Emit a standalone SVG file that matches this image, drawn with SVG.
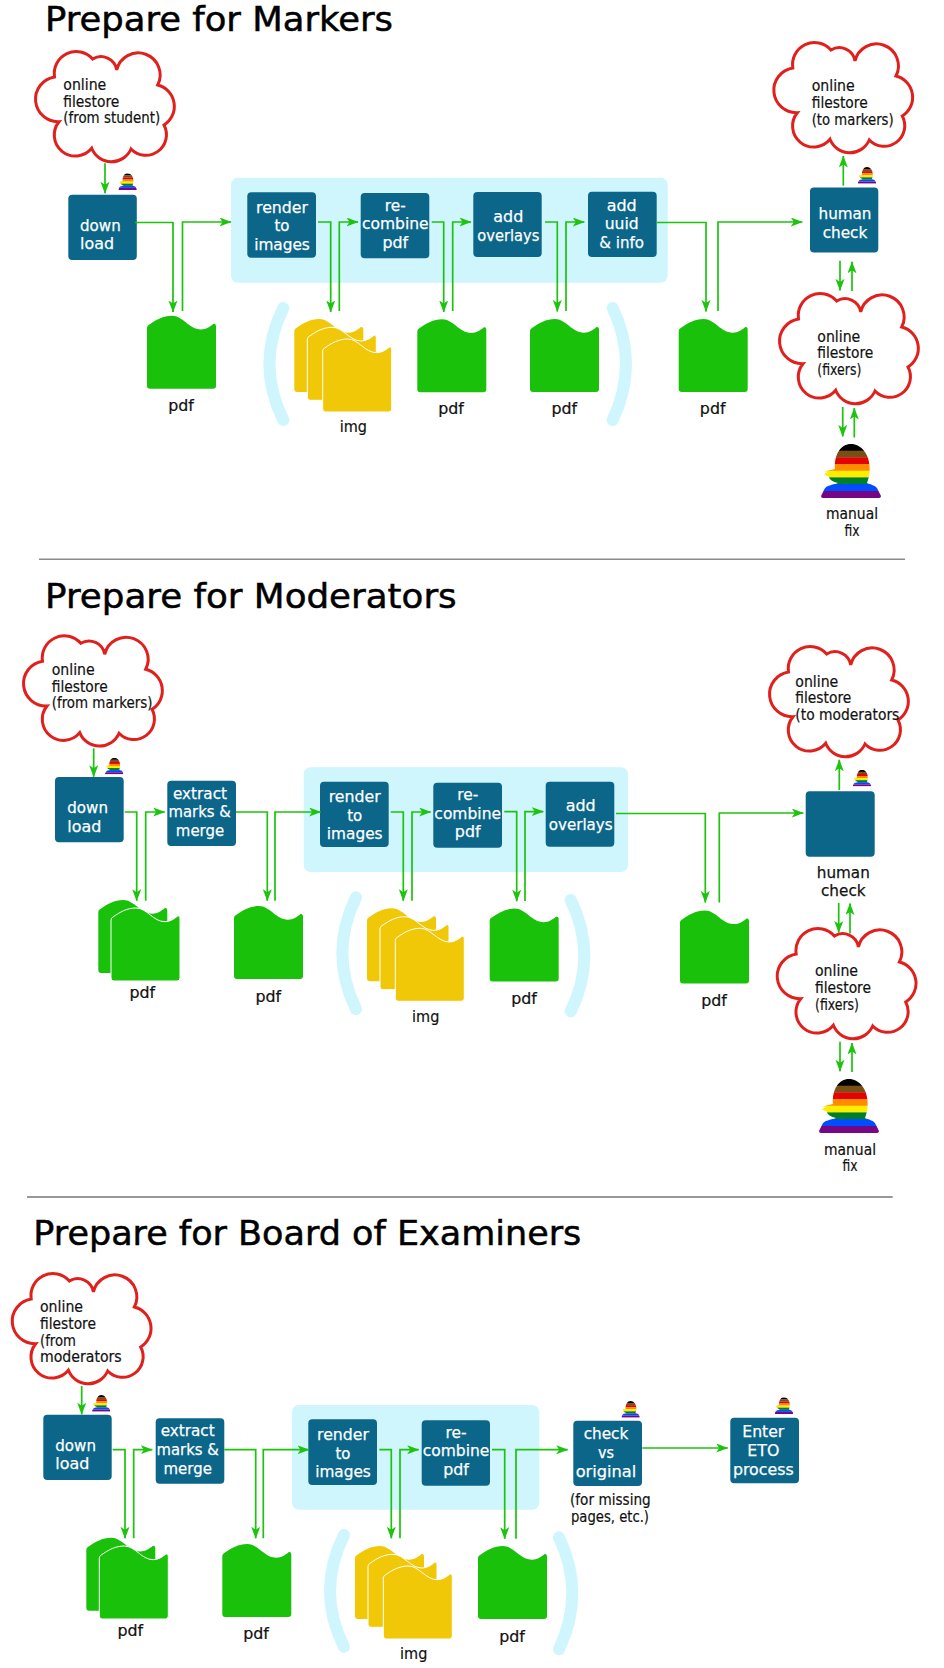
<svg xmlns="http://www.w3.org/2000/svg" xmlns:xlink="http://www.w3.org/1999/xlink" width="944" height="1668" viewBox="0 0 944 1668">
<style>
text{font-family:"DejaVu Sans","Liberation Sans",sans-serif}
.t{font-size:34px;fill:#000;stroke:#000;stroke-width:.5}
.l{font-size:15px;fill:#111;stroke:#111;stroke-width:.2}
.c{text-anchor:middle}
.w{font-size:16.5px;fill:#fff;stroke:#fff;stroke-width:.25}
.k{font-size:16.5px;fill:#111;stroke:#111;stroke-width:.25}
.box{fill:#0b6689}
.panel{fill:#cff5fd}
.paren{fill:none;stroke:#cff5fd;stroke-width:12;stroke-linecap:round}
.cloud{fill:#fff;stroke:#e0201c;stroke-width:3}
.g{fill:#1ac10a}
.y{fill:#f0c808}
.edge{stroke:#fff;stroke-width:1}
.con path{fill:none;stroke:#1cc40d;stroke-width:1.7;marker-end:url(#a)}
</style>
<defs>
<marker id="a" markerUnits="userSpaceOnUse" markerWidth="14" markerHeight="10" refX="11.5" refY="4.5" orient="auto"><path d="M0,0 L12,4.5 L0,9 L3,4.5 Z" fill="#1cc40d"/></marker>
<path id="cloud" class="cloud" d="M18.5,28 A22,22 0 0 1 56.7,10 A16,16 0 0 1 80.7,21 A22,22 0 1 1 121.7,36 A22,22 0 0 1 128,76 A20.6,20.6 0 0 1 95,100 A21.3,21.3 0 0 1 55.7,99.3 A21,21 0 0 1 23,72.7 A22.5,22.5 0 0 1 18.5,28 Z"/>
<path id="doc" d="M0,12 Q0,10 2,9 C9,4 16,0 25,0 C36,0 42,13.7 54,13.7 C59,13.7 63,11 66,8.5 C67.5,7.5 69,8 69,11 V70 Q69,73 66,73 H3 Q0,73 0,70 Z"/>
<clipPath id="pc"><path d="M30,0 C40,0 48,10 48.5,22 C49,28 48,34 46,39 C50,41 55,41 57,46 L60,52 Q60,54 58,54 H2 Q0,54 0,52 L3,46 C5,41 12,41 17,39 C12,38 8,35 8,33 L3,30 L7,28 L3,27.7 L14,25 C13,10 20,0 30,0 Z"/></clipPath>
<g id="person" clip-path="url(#pc)">
<rect x="0" y="0" width="60" height="7" fill="#000"/>
<rect x="0" y="6.7" width="60" height="7" fill="#784f17"/>
<rect x="0" y="13.4" width="60" height="7" fill="#e40303"/>
<rect x="0" y="20" width="60" height="7" fill="#ff8c00"/>
<rect x="0" y="26.7" width="60" height="7" fill="#ffed00"/>
<rect x="0" y="33.4" width="60" height="7" fill="#008026"/>
<rect x="0" y="40" width="60" height="7" fill="#004dff"/>
<rect x="0" y="47" width="60" height="7" fill="#750787"/>
</g>
</defs>
<rect width="944" height="1668" fill="#fff"/>

<g id="section-1">
<text class="t" x="45" y="30.7" textLength="348" lengthAdjust="spacingAndGlyphs">Prepare for Markers</text>
<g id="s1-panel"><rect class="panel" x="231" y="177.7" width="436.7" height="105" rx="7"/></g>
<path class="paren" d="M283.3,308 Q255.5,364 283.3,420"/>
<path class="paren" d="M612.7,308 Q639.3,364 612.7,420"/>
<g id="s1-cloud-student"><use href="#cloud" xlink:href="#cloud" x="36" y="49"/>
<text class="l" x="63.3" y="90" textLength="43" lengthAdjust="spacingAndGlyphs">online</text><text class="l" x="63.3" y="106.7" textLength="56" lengthAdjust="spacingAndGlyphs">filestore</text><text class="l" x="63.3" y="123.3" textLength="97" lengthAdjust="spacingAndGlyphs">(from student)</text></g>
<g id="s1-download"><rect class="box" x="68.3" y="194.7" width="68.5" height="65.3" rx="4"/><text class="w" x="80" y="230.7" textLength="40.7" lengthAdjust="spacingAndGlyphs">down</text><text class="w" x="80" y="249.3" textLength="34" lengthAdjust="spacingAndGlyphs">load</text></g>
<g id="s1-person1"><use href="#person" xlink:href="#person" transform="translate(118.3,173.3) scale(.31)"/></g>
<g id="s1-render"><rect class="box" x="247.3" y="192.3" width="68.7" height="65.4" rx="4"/><text class="w c" x="282" y="212.7" textLength="52" lengthAdjust="spacingAndGlyphs">render</text><text class="w c" x="282" y="231.3" textLength="15" lengthAdjust="spacingAndGlyphs">to</text><text class="w c" x="282" y="250" textLength="55.7" lengthAdjust="spacingAndGlyphs">images</text></g>
<g id="s1-recombine"><rect class="box" x="360.7" y="193" width="68.6" height="65.3" rx="4"/><text class="w c" x="395.3" y="210.7" textLength="21" lengthAdjust="spacingAndGlyphs">re-</text><text class="w c" x="395.3" y="229" textLength="66.7" lengthAdjust="spacingAndGlyphs">combine</text><text class="w c" x="395.3" y="247.7" textLength="25.7" lengthAdjust="spacingAndGlyphs">pdf</text></g>
<g id="s1-overlays"><rect class="box" x="473.3" y="192" width="68.4" height="65" rx="4"/><text class="w c" x="508.3" y="222" textLength="30" lengthAdjust="spacingAndGlyphs">add</text><text class="w c" x="508.3" y="241" textLength="62" lengthAdjust="spacingAndGlyphs">overlays</text></g>
<g id="s1-uuid"><rect class="box" x="588" y="191.8" width="68.7" height="65.2" rx="4"/><text class="w c" x="621.7" y="210.7" textLength="30" lengthAdjust="spacingAndGlyphs">add</text><text class="w c" x="621.7" y="229.3" textLength="34" lengthAdjust="spacingAndGlyphs">uuid</text><text class="w c" x="621.7" y="248" textLength="44.7" lengthAdjust="spacingAndGlyphs">&amp; info</text></g>
<g id="s1-human"><rect class="box" x="810" y="187.5" width="68.3" height="65" rx="4"/><text class="w c" x="845" y="218.6" textLength="53" lengthAdjust="spacingAndGlyphs">human</text><text class="w c" x="845" y="237.5" textLength="44.7" lengthAdjust="spacingAndGlyphs">check</text></g>
<g id="s1-person2"><use href="#person" xlink:href="#person" transform="translate(857.7,167) scale(.31)"/></g>
<g id="s1-cloud-markers"><use href="#cloud" xlink:href="#cloud" x="774.3" y="40"/>
<text class="l" x="811.7" y="91" textLength="43" lengthAdjust="spacingAndGlyphs">online</text><text class="l" x="811.7" y="108" textLength="56" lengthAdjust="spacingAndGlyphs">filestore</text><text class="l" x="811.7" y="125" textLength="82" lengthAdjust="spacingAndGlyphs">(to markers)</text></g>
<g id="s1-cloud-fixers"><use href="#cloud" xlink:href="#cloud" x="780" y="291"/>
<text class="l" x="817.3" y="341.8" textLength="43" lengthAdjust="spacingAndGlyphs">online</text><text class="l" x="817.3" y="358" textLength="56" lengthAdjust="spacingAndGlyphs">filestore</text><text class="l" x="817.3" y="375" textLength="44" lengthAdjust="spacingAndGlyphs">(fixers)</text></g>
<g id="s1-pdf1"><use href="#doc" xlink:href="#doc" class="g" x="147" y="315.7"/><text class="l c" x="181" y="410.7" textLength="25.7" lengthAdjust="spacingAndGlyphs">pdf</text></g>
<g id="s1-img"><use href="#doc" xlink:href="#doc" class="y" x="294.3" y="319"/><use href="#doc" xlink:href="#doc" class="y edge" x="307.3" y="327.3"/><use href="#doc" xlink:href="#doc" class="y edge" x="322.7" y="339"/><text class="l c" x="353.3" y="432.3" textLength="27.3" lengthAdjust="spacingAndGlyphs">img</text></g>
<g id="s1-pdf2"><use href="#doc" xlink:href="#doc" class="g" x="417.3" y="319.3"/><text class="l c" x="451" y="414.3" textLength="25.7" lengthAdjust="spacingAndGlyphs">pdf</text></g>
<g id="s1-pdf3"><use href="#doc" xlink:href="#doc" class="g" x="530" y="319"/><text class="l c" x="564.3" y="414" textLength="25.7" lengthAdjust="spacingAndGlyphs">pdf</text></g>
<g id="s1-pdf4"><use href="#doc" xlink:href="#doc" class="g" x="678.7" y="319"/><text class="l c" x="712.7" y="414" textLength="25.7" lengthAdjust="spacingAndGlyphs">pdf</text></g>
<g id="s1-manual"><use href="#person" xlink:href="#person" transform="translate(821,444)"/><text class="l c" x="852" y="519.3" textLength="52" lengthAdjust="spacingAndGlyphs">manual</text><text class="l c" x="852" y="536" textLength="15" lengthAdjust="spacingAndGlyphs">fix</text></g>
<g id="s1-connectors" class="con">
<path d="M105,163.3 V193.3"/>
<path d="M135,222.5 H173 V312"/>
<path d="M182.5,311 V222 H231"/>
<path d="M318,222 H330.7 V312"/>
<path d="M339.3,311 V222 H358"/>
<path d="M431.7,222 H443.7 V312"/>
<path d="M452.7,311 V222 H471"/>
<path d="M545,222 H557.3 V311.4"/>
<path d="M566,311 V222 H584.3"/>
<path d="M656.7,222.5 H706 V311.4"/>
<path d="M718,311 V222 H802.3"/>
<path d="M843.3,185.7 V156"/>
<path d="M840,260.7 V290.4"/>
<path d="M852,291 V261.8"/>
<path d="M842.7,407 V436.4"/>
<path d="M854.3,437.5 V408"/>
</g>
</g>

<line id="rule-1" x1="39" y1="559.3" x2="905" y2="559.3" stroke="#8a8a8a" stroke-width="1.5"/>

<g id="section-2">
<text class="t" x="45" y="608.3" textLength="411.7" lengthAdjust="spacingAndGlyphs">Prepare for Moderators</text>
<g id="s2-panel"><rect class="panel" x="303.7" y="767.3" width="324.3" height="104.7" rx="7"/></g>
<path class="paren" d="M356,897.3 Q328.7,953 356,1009"/>
<path class="paren" d="M570.7,900 Q598,955.7 570.7,1011.4"/>
<g id="s2-cloud-markers"><use href="#cloud" xlink:href="#cloud" x="24" y="633.3"/>
<text class="l" x="51.7" y="675" textLength="43" lengthAdjust="spacingAndGlyphs">online</text><text class="l" x="51.7" y="691.7" textLength="56" lengthAdjust="spacingAndGlyphs">filestore</text><text class="l" x="51.7" y="708.3" textLength="100.7" lengthAdjust="spacingAndGlyphs">(from markers)</text></g>
<g id="s2-download"><rect class="box" x="55" y="777" width="68.7" height="65.3" rx="4"/><text class="w" x="67.3" y="812.7" textLength="40.7" lengthAdjust="spacingAndGlyphs">down</text><text class="w" x="67.3" y="831.7" textLength="34" lengthAdjust="spacingAndGlyphs">load</text></g>
<g id="s2-person1"><use href="#person" xlink:href="#person" transform="translate(105,757.7) scale(.31)"/></g>
<g id="s2-extract"><rect class="box" x="167.3" y="780.7" width="68.7" height="65.3" rx="4"/><text class="w c" x="200" y="798.7" textLength="54" lengthAdjust="spacingAndGlyphs">extract</text><text class="w c" x="199.7" y="817.3" textLength="62.3" lengthAdjust="spacingAndGlyphs">marks &amp;</text><text class="w c" x="200" y="836" textLength="48.3" lengthAdjust="spacingAndGlyphs">merge</text></g>
<g id="s2-render"><rect class="box" x="320" y="781.7" width="68.7" height="65.3" rx="4"/><text class="w c" x="354.7" y="802.3" textLength="52" lengthAdjust="spacingAndGlyphs">render</text><text class="w c" x="354.7" y="821" textLength="15" lengthAdjust="spacingAndGlyphs">to</text><text class="w c" x="354.7" y="839.3" textLength="55.7" lengthAdjust="spacingAndGlyphs">images</text></g>
<g id="s2-recombine"><rect class="box" x="433.3" y="782.7" width="68.7" height="65" rx="4"/><text class="w c" x="467.7" y="800" textLength="21" lengthAdjust="spacingAndGlyphs">re-</text><text class="w c" x="467.7" y="818.7" textLength="66.7" lengthAdjust="spacingAndGlyphs">combine</text><text class="w c" x="467.7" y="837.3" textLength="25.7" lengthAdjust="spacingAndGlyphs">pdf</text></g>
<g id="s2-overlays"><rect class="box" x="545.7" y="781.7" width="68.6" height="65.1" rx="4"/><text class="w c" x="580.7" y="811.3" textLength="30" lengthAdjust="spacingAndGlyphs">add</text><text class="w c" x="580.7" y="830" textLength="64" lengthAdjust="spacingAndGlyphs">overlays</text></g>
<g id="s2-human"><rect class="box" x="805.7" y="791.3" width="69" height="65.5" rx="4"/><text class="k c" x="843.3" y="877.5" textLength="53" lengthAdjust="spacingAndGlyphs">human</text><text class="k c" x="843.3" y="896.4" textLength="44.7" lengthAdjust="spacingAndGlyphs">check</text></g>
<g id="s2-person2"><use href="#person" xlink:href="#person" transform="translate(852.7,769.8) scale(.31)"/></g>
<g id="s2-cloud-moderators"><use href="#cloud" xlink:href="#cloud" x="770" y="644"/>
<text class="l" x="795.3" y="686.6" textLength="43" lengthAdjust="spacingAndGlyphs">online</text><text class="l" x="795.3" y="703.2" textLength="56" lengthAdjust="spacingAndGlyphs">filestore</text><text class="l" x="795.3" y="720.3" textLength="104" lengthAdjust="spacingAndGlyphs">(to moderators</text></g>
<g id="s2-cloud-fixers"><use href="#cloud" xlink:href="#cloud" x="777.7" y="926"/>
<text class="l" x="815" y="976.3" textLength="43" lengthAdjust="spacingAndGlyphs">online</text><text class="l" x="815" y="993" textLength="56" lengthAdjust="spacingAndGlyphs">filestore</text><text class="l" x="815" y="1009.6" textLength="44" lengthAdjust="spacingAndGlyphs">(fixers)</text></g>
<g id="s2-pdf1"><use href="#doc" xlink:href="#doc" class="g" x="98.3" y="900"/><use href="#doc" xlink:href="#doc" class="g edge" x="111" y="908"/><text class="l c" x="142.3" y="997.7" textLength="25.7" lengthAdjust="spacingAndGlyphs">pdf</text></g>
<g id="s2-pdf2"><use href="#doc" xlink:href="#doc" class="g" x="234" y="906"/><text class="l c" x="268.3" y="1001.7" textLength="25.7" lengthAdjust="spacingAndGlyphs">pdf</text></g>
<g id="s2-img"><use href="#doc" xlink:href="#doc" class="y" x="367" y="908.3"/><use href="#doc" xlink:href="#doc" class="y edge" x="380" y="916.7"/><use href="#doc" xlink:href="#doc" class="y edge" x="395.3" y="928.3"/><text class="l c" x="425.7" y="1021.7" textLength="27.3" lengthAdjust="spacingAndGlyphs">img</text></g>
<g id="s2-pdf3"><use href="#doc" xlink:href="#doc" class="g" x="489.7" y="908.6"/><text class="l c" x="524" y="1003.6" textLength="25.7" lengthAdjust="spacingAndGlyphs">pdf</text></g>
<g id="s2-pdf4"><use href="#doc" xlink:href="#doc" class="g" x="680" y="910.4"/><text class="l c" x="714" y="1005.9" textLength="25.7" lengthAdjust="spacingAndGlyphs">pdf</text></g>
<g id="s2-manual"><use href="#person" xlink:href="#person" transform="translate(819,1079)"/><text class="l c" x="850" y="1154.6" textLength="52" lengthAdjust="spacingAndGlyphs">manual</text><text class="l c" x="850" y="1171" textLength="15" lengthAdjust="spacingAndGlyphs">fix</text></g>
<g id="s2-connectors" class="con">
<path d="M93.7,748.3 V776.7"/>
<path d="M124.7,812 H136.7 V900.7"/>
<path d="M145.7,900.7 V812 H164.7"/>
<path d="M236,812 H267.3 V900.7"/>
<path d="M275,900.7 V812 H320.7"/>
<path d="M390.7,812 H403.3 V900.7"/>
<path d="M412,900.7 V812 H430.7"/>
<path d="M504.3,811.6 H516.7 V901.2"/>
<path d="M525,901 V811.6 H543.3"/>
<path d="M616,813.5 H705.3 V902.6"/>
<path d="M719.3,902.6 V813 H803.3"/>
<path d="M839.3,790 V759.8"/>
<path d="M838.7,903 V932.6"/>
<path d="M850,933.4 V903.4"/>
<path d="M840,1041.7 V1071.3"/>
<path d="M852,1072 V1042.9"/>
</g>
</g>

<line id="rule-2" x1="27" y1="1197" x2="892.7" y2="1197" stroke="#333" stroke-width="1"/>

<g id="section-3">
<text class="t" x="33.3" y="1245" textLength="548" lengthAdjust="spacingAndGlyphs">Prepare for Board of Examiners</text>
<g id="s3-panel"><rect class="panel" x="292" y="1405" width="247.3" height="104.7" rx="7"/></g>
<path class="paren" d="M344,1535 Q316,1591 344,1646.7"/>
<path class="paren" d="M559,1537.3 Q585.6,1593.3 559,1649.3"/>
<g id="s3-cloud-moderators"><use href="#cloud" xlink:href="#cloud" x="12.7" y="1271"/>
<text class="l" x="40" y="1312" textLength="43" lengthAdjust="spacingAndGlyphs">online</text><text class="l" x="40" y="1329" textLength="56" lengthAdjust="spacingAndGlyphs">filestore</text><text class="l" x="40" y="1345.5" textLength="36" lengthAdjust="spacingAndGlyphs">(from</text><text class="l" x="40" y="1362" textLength="81.7" lengthAdjust="spacingAndGlyphs">moderators</text></g>
<g id="s3-download"><rect class="box" x="43.3" y="1414.7" width="68.4" height="65.3" rx="4"/><text class="w" x="55.3" y="1450.7" textLength="40.7" lengthAdjust="spacingAndGlyphs">down</text><text class="w" x="55.3" y="1469.3" textLength="34" lengthAdjust="spacingAndGlyphs">load</text></g>
<g id="s3-person1"><use href="#person" xlink:href="#person" transform="translate(92,1395) scale(.31)"/></g>
<g id="s3-extract"><rect class="box" x="155.7" y="1418.3" width="68.6" height="65.4" rx="4"/><text class="w c" x="187.7" y="1436" textLength="54" lengthAdjust="spacingAndGlyphs">extract</text><text class="w c" x="187.7" y="1455" textLength="62.3" lengthAdjust="spacingAndGlyphs">marks &amp;</text><text class="w c" x="187.7" y="1473.7" textLength="48.3" lengthAdjust="spacingAndGlyphs">merge</text></g>
<g id="s3-render"><rect class="box" x="308.3" y="1419.3" width="68.7" height="65.7" rx="4"/><text class="w c" x="343" y="1440" textLength="52" lengthAdjust="spacingAndGlyphs">render</text><text class="w c" x="343" y="1458.7" textLength="15" lengthAdjust="spacingAndGlyphs">to</text><text class="w c" x="343" y="1477.3" textLength="55.7" lengthAdjust="spacingAndGlyphs">images</text></g>
<g id="s3-recombine"><rect class="box" x="421.7" y="1420.3" width="68.3" height="65.4" rx="4"/><text class="w c" x="456" y="1437.7" textLength="21" lengthAdjust="spacingAndGlyphs">re-</text><text class="w c" x="456" y="1456.3" textLength="66.7" lengthAdjust="spacingAndGlyphs">combine</text><text class="w c" x="456" y="1475" textLength="25.7" lengthAdjust="spacingAndGlyphs">pdf</text></g>
<g id="s3-check"><rect class="box" x="573.3" y="1420.7" width="68.7" height="65.3" rx="4"/><text class="w c" x="606" y="1439.3" textLength="44.7" lengthAdjust="spacingAndGlyphs">check</text><text class="w c" x="606" y="1458.3" textLength="16" lengthAdjust="spacingAndGlyphs">vs</text><text class="w c" x="606" y="1477" textLength="60.7" lengthAdjust="spacingAndGlyphs">original</text><text class="l" x="570" y="1505" textLength="80.7" lengthAdjust="spacingAndGlyphs">(for missing</text><text class="l" x="571" y="1521.7" textLength="78" lengthAdjust="spacingAndGlyphs">pages, etc.)</text></g>
<g id="s3-person2"><use href="#person" xlink:href="#person" transform="translate(621.3,1401) scale(.31)"/></g>
<g id="s3-eto"><rect class="box" x="730.3" y="1417.7" width="68.7" height="65.6" rx="4"/><text class="w c" x="763.3" y="1436.7" textLength="42" lengthAdjust="spacingAndGlyphs">Enter</text><text class="w c" x="763.3" y="1455.7" textLength="32" lengthAdjust="spacingAndGlyphs">ETO</text><text class="w c" x="763.3" y="1474.7" textLength="60.7" lengthAdjust="spacingAndGlyphs">process</text></g>
<g id="s3-person3"><use href="#person" xlink:href="#person" transform="translate(774.7,1397.3) scale(.31)"/></g>
<g id="s3-pdf1"><use href="#doc" xlink:href="#doc" class="g" x="86.3" y="1537.7"/><use href="#doc" xlink:href="#doc" class="g edge" x="99.3" y="1546"/><text class="l c" x="130.3" y="1635.7" textLength="25.7" lengthAdjust="spacingAndGlyphs">pdf</text></g>
<g id="s3-pdf2"><use href="#doc" xlink:href="#doc" class="g" x="222.3" y="1544"/><text class="l c" x="256" y="1639.3" textLength="25.7" lengthAdjust="spacingAndGlyphs">pdf</text></g>
<g id="s3-img"><use href="#doc" xlink:href="#doc" class="y" x="355" y="1546"/><use href="#doc" xlink:href="#doc" class="y edge" x="368" y="1554.3"/><use href="#doc" xlink:href="#doc" class="y edge" x="383.3" y="1566"/><text class="l c" x="413.7" y="1659.3" textLength="27.3" lengthAdjust="spacingAndGlyphs">img</text></g>
<g id="s3-pdf3"><use href="#doc" xlink:href="#doc" class="g" x="478" y="1546"/><text class="l c" x="512" y="1641.7" textLength="25.7" lengthAdjust="spacingAndGlyphs">pdf</text></g>
<g id="s3-connectors" class="con">
<path d="M81.7,1386 V1414.3"/>
<path d="M112.7,1449.7 H125 V1538.3"/>
<path d="M133.7,1538.3 V1449.7 H152.3"/>
<path d="M224.3,1449.7 H255.7 V1538.3"/>
<path d="M263.3,1538.3 V1449.7 H309"/>
<path d="M379.3,1449.7 H391.3 V1538.3"/>
<path d="M400,1538.3 V1449.7 H418.7"/>
<path d="M492,1449.7 H504.7 V1538.7"/>
<path d="M516,1538.7 V1449.7 H567.7"/>
<path d="M642.3,1448 H727.7"/>
</g>
</g>
</svg>
